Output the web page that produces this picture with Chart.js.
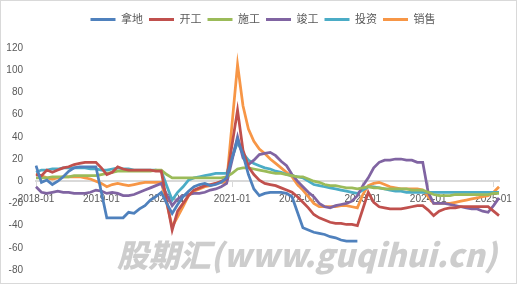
<!DOCTYPE html>
<html>
<head>
<meta charset="utf-8">
<script src="https://cdn.jsdelivr.net/npm/chart.js@4.4.1/dist/chart.umd.min.js"></script>
<style>
  html, body { margin: 0; padding: 0; background: #fff; }
</style>
</head>
<body>
<canvas id="chart" width="517" height="284"></canvas>
<script>
// Serie mensili 2018-01 .. 2025-02 (gennaio non pubblicato: valore a metà tra dic e feb)
const years = [2018, 2019, 2020, 2021, 2022, 2023, 2024, 2025];
const labels = [];
years.forEach(y => {
  for (let m = 1; m <= 12; m++) {
    if (y === 2025 && m > 2) break;
    labels.push(y + '-' + String(m).padStart(2, '0'));
  }
});

const seriesNames = ['拿地', '开工', '施工', '竣工', '投资', '销售'];
const seriesColors = ['#4F81BD', '#C0504D', '#9BBB59', '#8064A2', '#4BACC6', '#F79646'];

const nadi = [
  14, -1, 1, -3, 0, 4, 9, 12, 13, 13, 13, 13,
  -10, -33, -33, -33, -33, -28, -29, -25, -22, -17, -14, -10,
  -20, -29, -21, -14, -9, -5, -3, -2, -4, -3, -1, 3,
  21, 38, 24, 6, -7, -13, -11, -10, -10, -10, -11, -14,
  -28, -42, -44, -46, -47, -48, -50, -51, -53, -54, -54, -54
];
const kaigong = [
  6, 5, 10, 8, 10, 12, 13, 15, 16, 17, 17, 17,
  12, 6, 8, 13, 11, 10, 10, 10, 10, 10, 9, 9,
  -18, -44, -27, -20, -13, -8, -6, -4, -3, -2, 0, 2,
  33, 64, 28, 13, 6, 1, -2, -3, -4, -6, -8, -10,
  -14, -19, -24, -30, -33, -35, -37, -38, -38, -39, -39, -40,
  -25, -10, -19, -23, -24, -25, -25, -25, -24, -23, -22, -22,
  -26, -31, -27, -25, -24, -24, -23, -23, -23, -23, -23, -23,
  -27, -31
];
const shigong = [
  3, 3, 3, 4, 4, 4, 4, 5, 5, 5, 5, 5,
  6, 7, 8, 9, 9, 9, 9, 9, 9, 9, 10, 10,
  6, 3, 3, 3, 3, 3, 3, 3, 3, 3, 3, 4,
  7, 11, 12, 12, 11, 10, 9, 8, 7, 7, 6, 5,
  4, 4, 2, 0, -1, -3, -4, -4, -5, -6, -6, -7,
  -6, -5, -6, -6, -7, -7, -7, -7, -7, -8, -8, -8,
  -10, -12, -13, -13, -13, -12, -12, -12, -12, -12, -12, -12,
  -11, -11
];
const jungong = [
  -5, -10, -11, -10, -9, -10, -10, -11, -11, -11, -10, -8,
  -9, -11, -10, -11, -13, -13, -12, -10, -8, -6, -4, -2,
  -12, -22, -16, -13, -12, -11, -11, -10, -8, -7, -5, -2,
  19, 40, 21, 15, 19, 24, 25, 26, 23, 18, 14, 6,
  0, -5, -10, -14, -20, -23, -24, -22, -21, -20, -18, -13,
  -4, 3, 12, 17, 19, 19, 20, 20, 19, 19, 17, 17,
  -10, -20, -20, -20, -21, -22, -23, -24, -25, -25, -27, -28,
  -22, -15
];
const touzi = [
  8, 10, 10, 11, 11, 12, 12, 12, 12, 12, 11, 11,
  10, 10, 11, 12, 11, 11, 10, 10, 10, 10, 10, 9,
  -4, -17, -10, -5, 1, 3, 4, 5, 6, 7, 7, 7,
  21, 35, 25, 19, 16, 14, 12, 11, 9, 8, 6, 5,
  4, 3, 0, -3, -4, -5, -6, -7, -8, -9, -10, -11,
  -8, -5, -5, -6, -7, -8, -9, -9, -10, -10, -10, -10,
  -10, -10, -10, -10, -10, -10, -10, -10, -10, -10, -10, -10,
  -10, -10
];
const xiaoshou = [
  7, 5, 3, 2, 3, 4, 4, 4, 4, 3, 2, 0,
  -2, -5, -3, -2, -3, -4, -3, -2, -1, -1, -1, -1,
  -20, -41, -32, -23, -13, -9, -7, -5, -4, -2, -1, -1,
  52, 105, 68, 47, 36, 29, 25, 20, 16, 12, 8, 4,
  -3, -8, -14, -20, -23, -23, -23, -23, -22, -22, -23, -24,
  -12, -4, -2, -1, -3, -5, -6, -7, -7, -7, -7, -8,
  -14, -20, -20, -20, -20, -19, -18, -17, -16, -15, -14, -13,
  -10, -5
];
const seriesData = [nadi, kaigong, shigong, jungong, touzi, xiaoshou];

const yMin = -80, yMax = 120, yStep = 20;

// Legenda: spazio extra sotto e spostamento a destra
const legendGap = {
  id: 'legendGap',
  beforeLayout(chart) {
    const lg = chart.legend;
    if (lg && !lg._gapPatched) {
      const fit = lg.fit;
      lg.fit = function () { fit.call(this); this.height += 13; };
      lg._gapPatched = true;
    }
  },
  afterLayout(chart) {
    const lg = chart.legend;
    if (lg) { lg.left += 11; lg.right += 11; }
  }
};

// Sfondo, cornice e filigrana
const frame = {
  id: 'frame',
  beforeDraw(chart) {
    const c = chart.ctx;
    c.save();
    c.fillStyle = '#fff';
    c.fillRect(0, 0, chart.width, chart.height);
    c.strokeStyle = '#D9D9D9';
    c.lineWidth = 1;
    c.strokeRect(0.5, 0.5, chart.width - 1, chart.height - 1);
    c.restore();
  },
  afterDraw(chart) {
    const c = chart.ctx;
    const text = '股期汇(www.guqihui.cn)';
    c.save();
    c.font = 'italic 900 30px "Noto Sans CJK SC", "DejaVu Sans", sans-serif';
    const w = c.measureText(text).width;
    const target = 380;
    c.translate(117, 255);
    c.scale(target / w, 1.05);
    c.fillStyle = '#CDCDCD';
    c.textBaseline = 'middle';
    c.fillText(text, 0, 0);
    c.restore();
  }
};

Chart.defaults.font.family = '"Liberation Sans", "Noto Sans CJK SC", sans-serif';
Chart.defaults.color = '#595959';

new Chart(document.getElementById('chart'), {
  type: 'line',
  data: {
    labels: labels,
    datasets: seriesNames.map((name, i) => ({
      label: name,
      data: seriesData[i],
      borderColor: seriesColors[i],
      backgroundColor: seriesColors[i],
      borderWidth: 2.75,
      pointRadius: 0,
      tension: 0,
      fill: false
    }))
  },
  options: {
    responsive: false,
    animation: false,
    layout: { padding: { left: 5, right: 18, top: 8, bottom: 14 } },
    plugins: {
      tooltip: { enabled: false },
      legend: {
        position: 'top',
        labels: {
          boxWidth: 25,
          boxHeight: 3,
          padding: 6,
          color: '#595959',
          font: { size: 11 },
          generateLabels(chart) {
            const items = Chart.defaults.plugins.legend.labels.generateLabels(chart);
            return items.map(it => ({ ...it, lineWidth: 0 }));
          }
        }
      }
    },
    scales: {
      x: {
        type: 'category',
        position: { y: 0 },
        offset: false,
        border: { display: true, color: '#D9D9D9', width: 2 },
        grid: {
          display: true,
          drawOnChartArea: false,
          drawTicks: true,
          tickLength: 5,
          color: ctx => (labels[ctx.index] || '').endsWith('-01') ? '#D9D9D9' : 'rgba(0,0,0,0)'
        },
        ticks: {
          autoSkip: false,
          maxRotation: 0,
          minRotation: 0,
          padding: 7,
          font: { size: 10 },
          color: '#595959',
          callback: function (value, index) {
            const l = labels[index];
            return l.endsWith('-01') ? l : '';
          }
        }
      },
      y: {
        min: yMin,
        max: yMax,
        border: { display: false },
        grid: {
          display: true,
          drawOnChartArea: false,
          drawTicks: true,
          tickLength: 10,
          color: 'rgba(0,0,0,0)'
        },
        afterFit(scale) { scale.width = 31; },
        ticks: {
          stepSize: yStep,
          padding: 3,
          font: { size: 10 },
          color: '#595959'
        }
      }
    }
  },
  plugins: [legendGap, frame]
});
</script>
</body>
</html>
